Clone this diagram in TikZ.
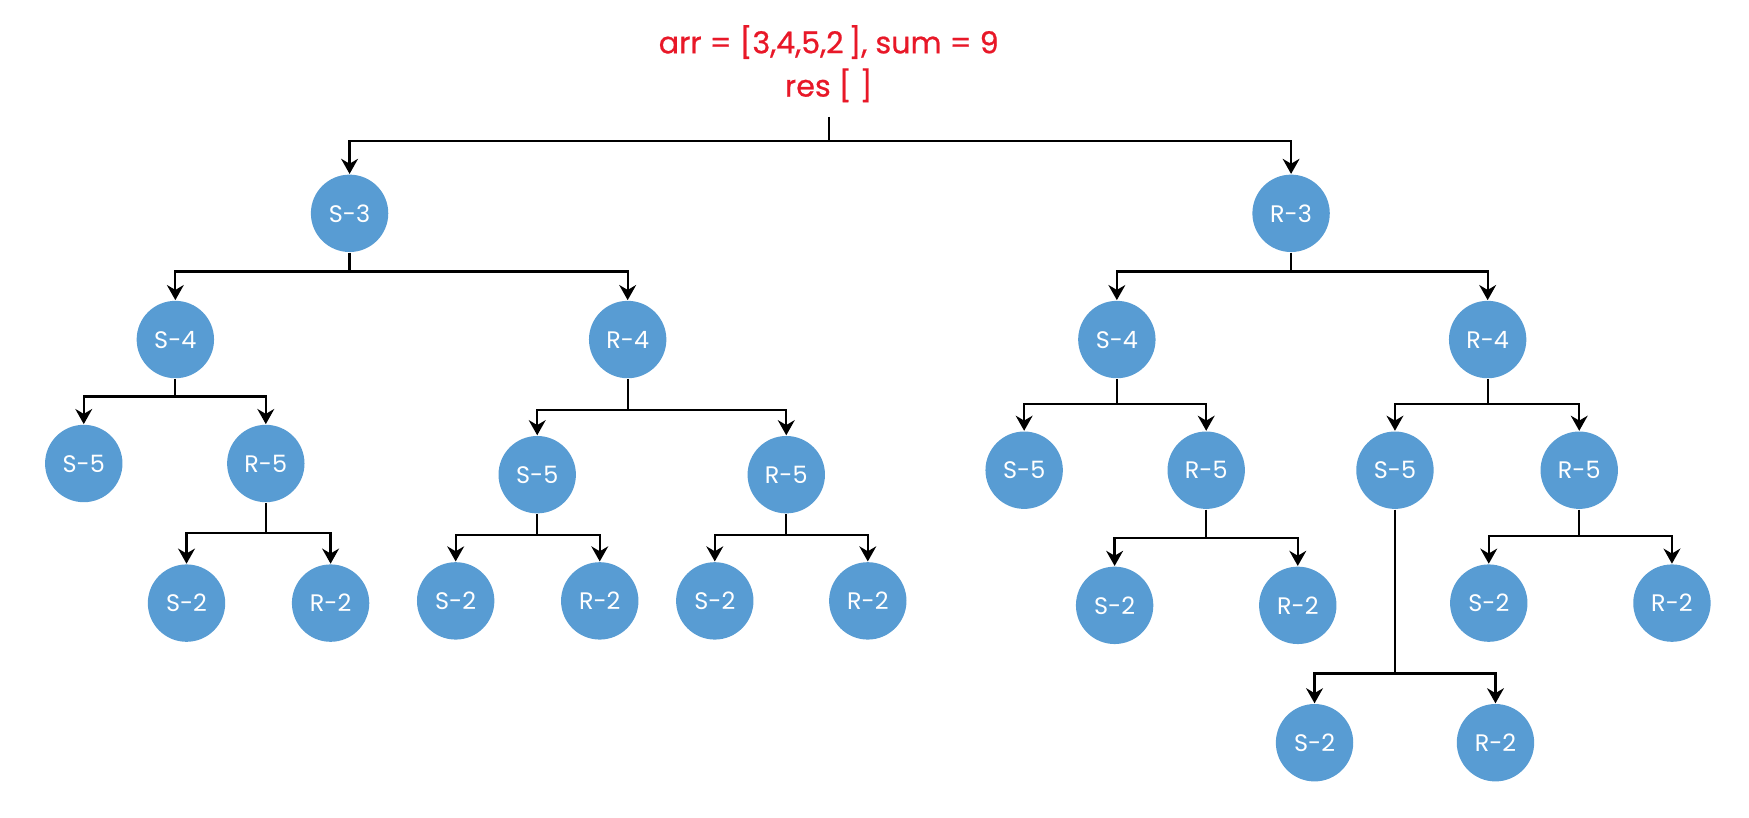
\documentclass[tikz,border=0pt]{standalone}
\usepackage{fontspec}
\setmainfont{Poppins}
\newfontfamily\titlefont{Poppins}[FakeBold=0.7]
\usetikzlibrary{arrows.meta}
\definecolor{nodeblue}{RGB}{88,156,211}
\definecolor{titlered}{RGB}{232,24,40}

\begin{document}
\begin{tikzpicture}[x=0.01117cm,y=-0.01117cm,
  sn/.style={circle,fill=nodeblue,text=white,minimum size=0.774cm,inner sep=0pt,
    font=\fontsize{6.8}{8}\selectfont},
  br/.style={-{Stealth[length=4.3pt,width=4.8pt]},line width=0.65pt}]
  \useasboundingbox (0,0) rectangle (1566,732);

  \node[align=center,text=titlered,inner ysep=4pt,
    font=\titlefont\fontsize{8.6}{12.3}\selectfont] at (742,57) (top)
    {arr = [3,4,5,2\,], sum = 9\\res [~]};

  % level 1
  \node[sn] at (313,191) (s3){S-3};
  \node[sn] at (1156,191) (r3){R-3};

  % level 2
  \node[sn] at (157,304) (s4a){S-4};
  \node[sn] at (562,304) (r4a){R-4};
  \node[sn] at (1000,304) (s4b){S-4};
  \node[sn] at (1332,304) (r4b){R-4};

  % level 3
  \node[sn] at (75,415) (s5a){S-5};
  \node[sn] at (238,415) (r5a){R-5};
  \node[sn] at (481,425) (s5b){S-5};
  \node[sn] at (704,425) (r5b){R-5};
  \node[sn] at (917,421) (s5c){S-5};
  \node[sn] at (1080,421) (r5c){R-5};
  \node[sn] at (1249,421) (s5d){S-5};
  \node[sn] at (1414,421) (r5d){R-5};

  % level 4
  \node[sn] at (167,540) (s2a){S-2};
  \node[sn] at (296,540) (r2a){R-2};
  \node[sn] at (408,538) (s2b){S-2};
  \node[sn] at (537,538) (r2b){R-2};
  \node[sn] at (640,538) (s2c){S-2};
  \node[sn] at (777,538) (r2c){R-2};
  \node[sn] at (998,542) (s2d){S-2};
  \node[sn] at (1162,542) (r2d){R-2};
  \node[sn] at (1333,540) (s2e){S-2};
  \node[sn] at (1497,540) (r2e){R-2};
  \node[sn] at (1177,665) (s2f){S-2};
  \node[sn] at (1339,665) (r2f){R-2};

  % junctions
  \coordinate (j0) at (742,126);
  \coordinate (ja) at (313,243);
  \coordinate (jb) at (1156,243);
  \coordinate (jc) at (157,355);
  \coordinate (jd) at (562,367);
  \coordinate (je) at (1000,362);
  \coordinate (jf) at (1332,362);
  \coordinate (jg) at (238,477);
  \coordinate (jh) at (481,479);
  \coordinate (ji) at (704,479);
  \coordinate (jj) at (1080,482);
  \coordinate (jk) at (1414,480);
  \coordinate (jl) at (1249,603);

  \draw[br] (top) |- (j0) -| (s3);
  \draw[br] (j0) -| (r3);

  \draw[br] (s3) |- (ja) -| (s4a);
  \draw[br] (ja) -| (r4a);
  \draw[br] (r3) |- (jb) -| (s4b);
  \draw[br] (jb) -| (r4b);

  \draw[br] (s4a) |- (jc) -| (s5a);
  \draw[br] (jc) -| (r5a);
  \draw[br] (r4a) |- (jd) -| (s5b);
  \draw[br] (jd) -| (r5b);
  \draw[br] (s4b) |- (je) -| (s5c);
  \draw[br] (je) -| (r5c);
  \draw[br] (r4b) |- (jf) -| (s5d);
  \draw[br] (jf) -| (r5d);

  \draw[br] (r5a) |- (jg) -| (s2a);
  \draw[br] (jg) -| (r2a);
  \draw[br] (s5b) |- (jh) -| (s2b);
  \draw[br] (jh) -| (r2b);
  \draw[br] (r5b) |- (ji) -| (s2c);
  \draw[br] (ji) -| (r2c);
  \draw[br] (r5c) |- (jj) -| (s2d);
  \draw[br] (jj) -| (r2d);
  \draw[br] (r5d) |- (jk) -| (s2e);
  \draw[br] (jk) -| (r2e);
  \draw[br] (s5d) |- (jl) -| (s2f);
  \draw[br] (jl) -| (r2f);
\end{tikzpicture}
\end{document}
